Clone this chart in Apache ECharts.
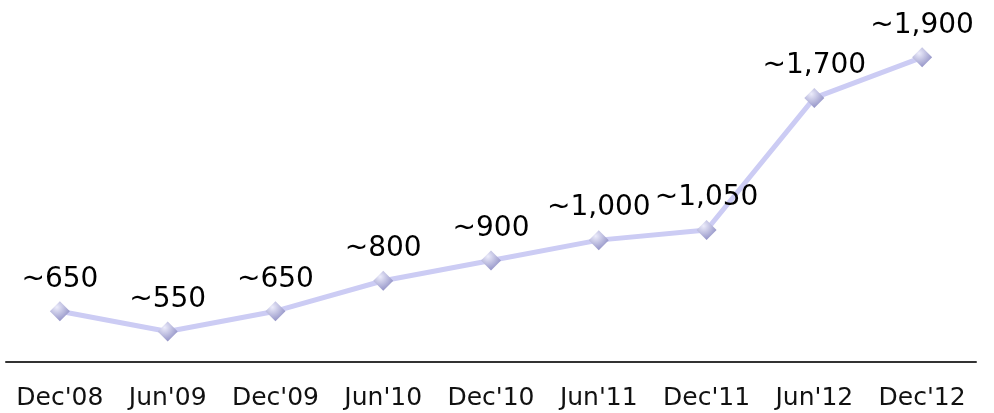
<!DOCTYPE html>
<html><head><meta charset="utf-8">
<script src="https://cdn.jsdelivr.net/npm/echarts@6/dist/echarts.min.js"></script>
<style>html,body{margin:0;padding:0;background:#fff}#c{width:994px;height:413px}</style>
</head><body><div id="c"></div>
<script>
var categories = ["Dec'08","Jun'09","Dec'09","Jun'10","Dec'10","Jun'11","Dec'11","Jun'12","Dec'12"];
var values = [650,550,650,800,900,1000,1050,1700,1900];
var labels = ["~650","~550","~650","~800","~900","~1,000","~1,050","~1,700","~1,900"];

var chart = echarts.init(document.getElementById('c'));
chart.setOption({
  animation:false,
  grid:{left:6,right:18,top:37,bottom:51},
  xAxis:{type:'category',data:categories,boundaryGap:true,
    axisLine:{lineStyle:{color:'#333',width:2}},axisTick:{show:false},
    axisLabel:{color:'#111',fontSize:25,fontFamily:'DejaVu Sans',margin:24,interval:0}},
  yAxis:{type:'value',min:400,max:2000,show:false,splitLine:{show:false}},
  series:[{type:'line',data:values,symbol:'diamond',symbolSize:20,
    lineStyle:{color:'#ccccf4',width:5},
    itemStyle:{color:new echarts.graphic.RadialGradient(0.35,0.3,0.8,[{offset:0,color:'#ececfb'},{offset:1,color:'#8888c0'}]),borderWidth:0},
    label:{show:true,position:'top',distance:8,color:'#000',fontSize:28,fontFamily:'DejaVu Sans',
      formatter:function(p){return labels[p.dataIndex];}}
  }]
});
</script></body></html>
